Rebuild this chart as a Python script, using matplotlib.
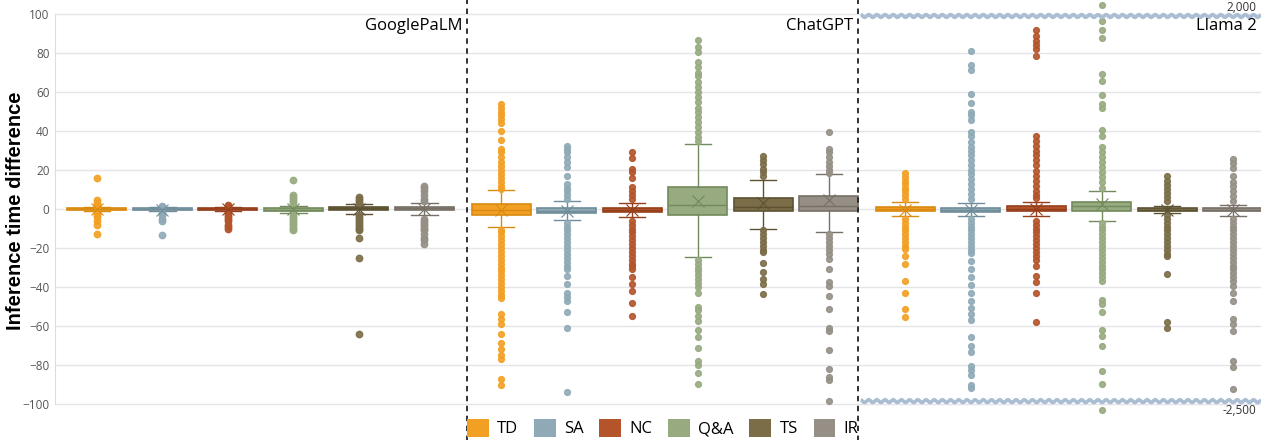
import numpy as np
import matplotlib
matplotlib.use('Agg')
from matplotlib import pyplot as plt
from matplotlib.patches import Patch
import matplotlib.transforms as mtransforms

plt.rcParams['font.family'] = ['Open Sans', 'DejaVu Sans']

models = ['GooglePaLM', 'ChatGPT', 'Llama 2']
tasks = ['TD', 'SA', 'NC', 'Q&A', 'TS', 'IR']
colors = ['#F2A024', '#8FAAB6', '#B3542A', '#97AA80', '#7A6D48', '#958F86']
edges = ['#D98A10', '#6F8C9A', '#963F1C', '#728A5C', '#5C5232', '#777067']

# box stats per model, order = tasks: (q1, median, q3, whislo, whishi, mean)
palm_stats = [(-0.6, 0, 0.6, -1.2, 1.2, 0), (-0.6, -0.2, 0.4, -1, 1, -0.3),
              (-0.6, -0.2, 0.4, -1.2, 1.2, -0.2), (-1, -0.3, 0.5, -1.8, 1.6, -0.2),
              (-0.6, 0.3, 1, -2.5, 2.5, 0), (-0.5, 0.4, 1.2, -3, 3, 0.2)]
gpt_stats = [(-2.9, -0.3, 2.6, -9.1, 9.8, -0.3), (-2.2, -1, 0.3, -5.7, 4, -1),
             (-1.7, -0.5, 0.5, -4.3, 3, -0.6), (-3, 2.2, 11.5, -24.4, 33.4, 4.3),
             (-1, 0.9, 5.7, -10, 15, 3), (-1.2, 1.5, 6.7, -11.7, 17.8, 4.6)]
llama_stats = [(-1.2, 0, 0.9, -3.8, 3.8, -0.3), (-1.4, -0.5, 0.3, -3.8, 3, -0.5),
               (-1.2, 0, 1.4, -3.8, 3.8, 0), (-0.9, 1.7, 3.4, -6, 9, 2.6),
               (-1, -0.3, 0.3, -2, 1.4, -0.4), (-1.2, -0.5, 0.3, -3.8, 2, -0.6)]

palm_fliers = [
    [16, 4.5, 3, 2, 1.5, -2, -3, -4, -6, -8, -13],
    [1.5, 1, -2, -3, -5, -6, -13.5],
    [2, 1.5, -2, -3, -4, -5, -6, -8, -9, -10],
    [15, 7, 6, 5, 4, 3, -3, -4, -5, -6, -7, -8, -9, -10, -11],
    [6, 5, 4, 3, -3, -4, -5, -6, -7, -8, -9, -10, -11, -15, -25, -64],
    [12, 11, 9, 7, 5, 4, -5, -6, -7, -8, -9, -10, -11, -13, -15, -16, -18],
]
gpt_fliers = [
    [54, 52, 50, 48, 46, 44, 40, 35.5, 31, 29, 26.5, 24, 22, 20, 18, 16, 14, 12, 10.5,
     -10.5, -12, -14, -16, -18, -20, -22, -24, -26, -28, -30, -32, -34, -36, -38, -40,
     -42, -44, -45.5, -54, -56.5, -59, -64, -68.5, -72, -75, -77, -87, -90],
    [32.5, 31, 29, 26.5, 24, 21.5, 17, 13, 11, 9, 7, 5,
     -7, -9, -11, -13, -15, -17, -19, -21, -23, -25, -27, -29, -31, -34.5, -38.5, -43,
     -45, -47, -53, -61, -94],
    [29, 26, 20.5, 19, 16, 11.5, 9.5, 7, 5,
     -6, -8, -10, -12, -14, -16, -18, -20, -22, -24, -26, -28, -29, -31, -35, -38.5,
     -42, -48, -55],
    [86.5, 83, 80.5, 75.5, 73, 70, 68, 65, 62.5, 60, 57.5, 55, 52, 50, 47, 44.5, 42,
     39.5, 37, 35,
     -26, -28, -30, -32, -34, -36, -38, -40, -43, -50, -52, -55, -57.5, -62, -65.5,
     -71, -78, -80, -84, -89.5],
    [27, 25, 23, 20.5, 19, 17,
     -11, -13, -15, -17, -19, -21, -22, -27.5, -32.5, -36, -38.5, -43.5],
    [39.5, 31, 29, 26.5, 24, 22, 20, 18.5,
     -13, -15, -17, -19, -21, -23, -25.5, -30.5, -37.5, -39.5, -44.5, -51.5, -61, -62.5,
     -72.5, -82, -86, -87.5, -98.5],
]
llama_fliers = [
    [18.5, 16.5, 14.5, 13, 11, 9, 7, 5,
     -5, -7, -9, -11, -13, -15, -17, -19, -20.5, -24, -28, -37, -43, -51.5, -55.5],
    [81, 74, 71.5, 59, 54.5, 50, 48, 45.5, 39.5, 37.5, 34.5, 32, 30, 27.5, 25, 22.5, 20,
     18, 15.5, 13, 10.5, 7.5, 5,
     -5, -7, -9, -11, -13, -15, -17, -19, -21, -22.5, -26.5, -31, -35, -39, -43, -47,
     -50.5, -54, -57, -65.5, -70, -73.5, -80.5, -82.5, -85, -90, -92],
    [92, 88.5, 86, 84, 82, 78.5, 37.5, 35, 32.5, 30, 27.5, 25, 22.5, 19.5, 17, 14.5, 12,
     9.5, 7, 5.5,
     -6, -8, -10, -12, -14, -16, -18, -20, -22, -24, -26, -29, -34.5, -37.5, -43, -58],
    [104.5, 96.5, 92, 87.5, 69.5, 65.5, 58.5, 54, 52, 40.5, 37.5, 32, 29, 26.5, 24, 21.5,
     19, 16.5, 14, 11,
     -7, -9, -11, -13, -15, -17, -19, -21, -23, -25, -27, -29, -31, -33, -35, -37, -46.5,
     -48.5, -53, -62, -65, -70, -83, -89.5, -103],
    [17, 14.5, 12.5, 10.5, 8, 6, 4,
     -3, -5, -7, -9, -11, -13, -15, -17, -19, -21, -23, -24, -33.5, -58, -61],
    [25.5, 23.5, 21, 17, 14, 12, 9, 6.5, 4,
     -5, -7, -9, -11, -13, -15, -17, -19, -21, -23, -25, -27, -29, -31, -33, -35, -37,
     -39.5, -43, -47, -56.5, -59, -62.5, -78, -81, -92.5],
]

all_stats = [palm_stats, gpt_stats, llama_stats]
all_fliers = [palm_fliers, gpt_fliers, llama_fliers]

fig = plt.figure(figsize=(12.61, 4.40), dpi=100)
ax = fig.add_axes([55 / 1261, 26 / 440, 1 - 55 / 1261, 414 / 440])

group_step = 6.17
for g in range(3):
    for i in range(6):
        q1, med, q3, lo, hi, mean = all_stats[g][i]
        st = dict(q1=q1, med=med, q3=q3, whislo=lo, whishi=hi, mean=mean,
                  fliers=all_fliers[g][i])
        pos = g * group_step + i
        ms = 4.2 if g > 0 else 4.6
        ax.bxp([st], positions=[pos], widths=0.9, capwidths=0.4, patch_artist=True,
               showmeans=True, meanline=False,
               boxprops=dict(facecolor=colors[i], edgecolor=edges[i], linewidth=1.2),
               medianprops=dict(color=edges[i], linewidth=1),
               whiskerprops=dict(color=edges[i], linewidth=1),
               capprops=dict(color=edges[i], linewidth=1),
               meanprops=dict(marker='x', markeredgecolor=edges[i], markersize=9,
                              markeredgewidth=0.8),
               flierprops=dict(marker='o', markerfacecolor=colors[i],
                               markeredgecolor=colors[i], markersize=ms, alpha=0.9))

ax.set_xlim(-0.64, 17.77)
ax.set_ylim(-105.1, 107.2)
ax.set_yticks(np.arange(-100, 101, 20))
ax.set_xticks([])
ax.tick_params(axis='y', length=0, labelsize=8.5, labelcolor='#555555', pad=4)
ax.grid(axis='y', color='#E4E4EA', linewidth=1)
ax.set_axisbelow(True)
for s in ['top', 'right', 'bottom']:
    ax.spines[s].set_visible(False)
ax.spines['left'].set_bounds(-100, 100)
ax.spines['left'].set_color('#DDDDDD')
ax.set_ylabel('Inference time difference', fontsize=14.5, fontweight='bold',
              family=['Liberation Sans', 'DejaVu Sans'])
ax.yaxis.set_label_coords(-30 / 1206, 0.49)

# group dividers
trans = mtransforms.blended_transform_factory(ax.transData, ax.transAxes)
for xd in [5.65, 11.62]:
    ax.plot([xd, xd], [-0.065, 1.0], transform=trans, color='#222222', linestyle='--',
            dashes=(3, 2.5), linewidth=1.3, clip_on=False)

# group titles
ax.text(5.58, 94, 'GooglePaLM', ha='right', va='center', fontsize=12)
ax.text(11.55, 94, 'ChatGPT', ha='right', va='center', fontsize=12)
ax.text(17.7, 94, 'Llama 2', ha='right', va='center', fontsize=12)

# axis break marks for Llama 2 (different scale)
xw = np.linspace(11.66, 17.77, 900)
for yb in [99, -98.5]:
    ax.plot(xw, yb + 0.7 * np.sin(xw * 2 * np.pi / 0.125), color='#A9BDD3',
            linewidth=2.6, solid_capstyle='butt')
ax.text(17.7, 103.5, '2,000', ha='right', va='center', fontsize=8.5, color='#333333')
ax.text(17.7, -103.5, '-2,500', ha='right', va='center', fontsize=8.5, color='#333333')

handles = [Patch(facecolor=c, edgecolor='none') for c in colors]
fig.legend(handles, tasks, loc='center', bbox_to_anchor=(0.5255, 0.027), ncol=6,
           frameon=False, fontsize=12, handlelength=1.3, handleheight=1.3,
           handletextpad=0.5, columnspacing=0.95, borderpad=0)

fig.savefig('out.png', dpi=100)
